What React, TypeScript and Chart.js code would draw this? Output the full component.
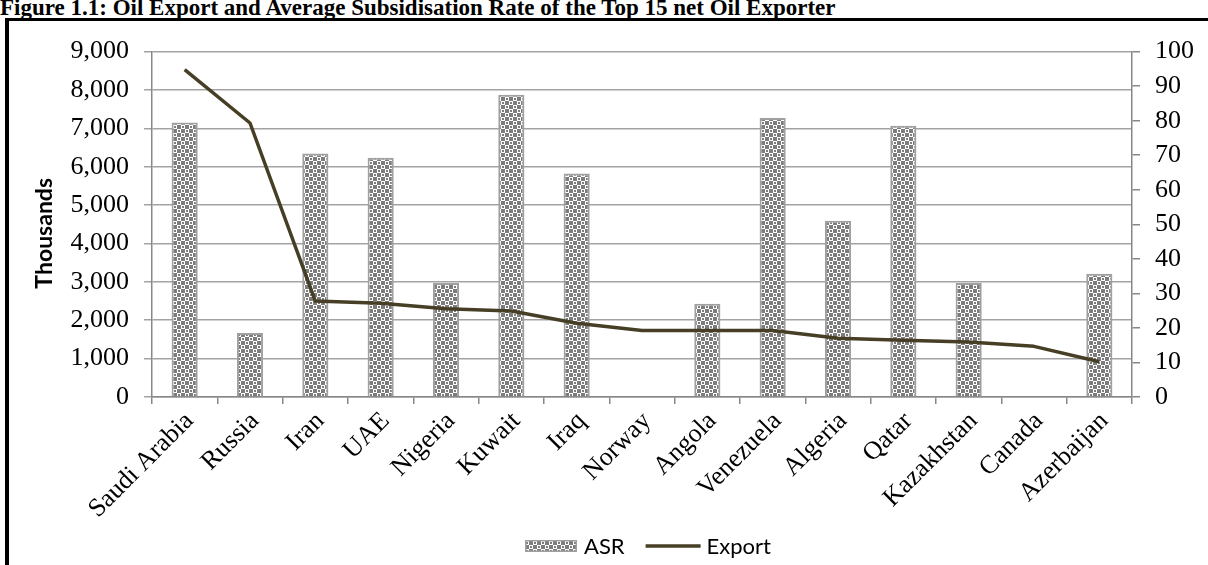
import React, { useEffect, useRef } from 'react';
import { Chart, registerables } from 'chart.js';

Chart.register(...registerables);

// Top 15 net oil exporters, in export order
const categories = [
  'Saudi Arabia', 'Russia', 'Iran', 'UAE', 'Nigeria', 'Kuwait', 'Iraq', 'Norway',
  'Angola', 'Venezuela', 'Algeria', 'Qatar', 'Kazakhstan', 'Canada', 'Azerbaijan',
];

// Average subsidisation rate (%), right axis; no bar where there is no subsidy
const asrRates = [79.5, 18.5, 70.5, 69.3, 33, 87.5, 64.7, null, 27, 80.8, 51, 78.5, 33, null, 35.7];

// Net oil export (thousands), left axis
const exportThousands = [8530, 7140, 2500, 2440, 2300, 2240, 1920, 1730, 1730, 1730, 1530, 1480, 1430, 1320, 920];

const seriesNames = ['ASR', 'Export'];
const axisTitle = 'Thousands';
const figureTitle = 'Figure 1.1: Oil Export and Average Subsidisation Rate of the Top 15 net Oil Exporter';

const SERIF = "'Liberation Serif', 'Times New Roman', serif";
const SANS = "Lato, 'Open Sans', sans-serif";
const TICK_FONT = { family: SERIF, size: 26 };
const GRID = '#a3a3a3';
const AXIS = '#878787';
const LINE = '#463f26';
const HATCH = '#7c7c7c';
const BAR_EDGE = '#a0a0a0';

// 8x8 tile: gray ground with white rings on one checker diagonal, used as the ASR bar fill
function makeTile(): HTMLCanvasElement {
  const c = document.createElement('canvas');
  c.width = 8;
  c.height = 8;
  const g = c.getContext('2d')!;
  g.fillStyle = HATCH;
  g.fillRect(0, 0, 8, 8);
  g.fillStyle = '#ffffff';
  // ring in the upper-right quarter
  g.fillRect(4, 0, 4, 4);
  // ring in the lower-left quarter
  g.fillRect(0, 4, 4, 4);
  g.fillStyle = HATCH;
  g.fillRect(5, 1, 2, 2);
  g.fillRect(1, 5, 2, 2);
  return c;
}

export default function App() {
  const canvasRef = useRef<HTMLCanvasElement>(null);

  useEffect(() => {
    const canvas = canvasRef.current;
    if (!canvas) return;
    const ctx = canvas.getContext('2d')!;
    const tile = makeTile();
    const pattern = ctx.createPattern(tile, 'repeat')!;

    // Axis title and legend drawn after the chart
    const decor = {
      id: 'decor',
      afterDraw(chart: any) {
        const c = chart.ctx as CanvasRenderingContext2D;
        const area = chart.chartArea;
        c.save();
        // rotated left-axis title
        c.fillStyle = '#000';
        c.font = `bold 23px ${SANS}`;
        c.textAlign = 'center';
        c.textBaseline = 'middle';
        c.translate(36, (area.top + area.bottom) / 2 + 9);
        c.rotate(-Math.PI / 2);
        c.fillText(axisTitle, 0, 0);
        c.restore();

        // legend
        c.save();
        const cy = 525;
        let x = 516;
        const sw = 52;
        const sh = 12;
        c.fillStyle = pattern;
        c.fillRect(x, cy - sh / 2, sw, sh);
        c.strokeStyle = BAR_EDGE;
        c.lineWidth = 1.5;
        c.strokeRect(x + 0.75, cy - sh / 2 + 0.75, sw - 1.5, sh - 1.5);
        x += sw + 7;
        c.font = `22px ${SANS}`;
        c.fillStyle = '#000';
        c.textAlign = 'left';
        c.textBaseline = 'middle';
        c.fillText(seriesNames[0], x, cy + 1);
        x += c.measureText(seriesNames[0]).width + 21;
        c.strokeStyle = LINE;
        c.lineWidth = 3.5;
        c.beginPath();
        c.moveTo(x, cy);
        c.lineTo(x + 55, cy);
        c.stroke();
        x += 55 + 6;
        c.fillText(seriesNames[1], x, cy + 1);
        c.restore();
      },
    };

    const chart = new Chart(canvas, {
      type: 'bar',
      data: {
        labels: categories,
        datasets: [
          {
            type: 'line',
            label: seriesNames[1],
            data: exportThousands,
            yAxisID: 'y',
            borderColor: LINE,
            backgroundColor: LINE,
            borderWidth: 3.5,
            borderJoinStyle: 'round',
            pointRadius: 0,
            tension: 0,
            fill: false,
            order: 0,
          } as any,
          {
            type: 'bar',
            label: seriesNames[0],
            data: asrRates,
            yAxisID: 'y1',
            backgroundColor: pattern,
            borderColor: BAR_EDGE,
            borderWidth: 2,
            barPercentage: 0.4,
            categoryPercentage: 1,
            order: 1,
          } as any,
        ],
      },
      options: {
        responsive: false,
        animation: false,
        layout: { padding: { top: 26, left: 0, right: 0, bottom: 0 } },
        plugins: {
          legend: { display: false },
          tooltip: { enabled: false },
        },
        scales: {
          x: {
            grid: {
              offset: true,
              drawOnChartArea: false,
              drawTicks: true,
              tickLength: 7,
              color: AXIS,
              lineWidth: 1.5,
            },
            border: { display: true, color: AXIS, width: 1.5 },
            ticks: {
              font: TICK_FONT,
              color: '#000',
              minRotation: 45,
              maxRotation: 45,
              autoSkip: false,
              padding: 2,
              labelOffset: 5,
            },
            afterFit: (s: any) => {
              s.height = 168;
            },
          },
          y: {
            position: 'left',
            min: 0,
            max: 9000,
            ticks: {
              stepSize: 1000,
              font: TICK_FONT,
              color: '#000',
              padding: 15,
              callback: (v: any) => Number(v).toLocaleString('en-US'),
            },
            grid: { color: GRID, lineWidth: 1.5, tickLength: 8, drawTicks: true },
            border: { display: true, color: AXIS, width: 1.5 },
            afterFit: (s: any) => {
              s.width = 143;
            },
          },
          y1: {
            position: 'right',
            min: 0,
            max: 100,
            ticks: {
              stepSize: 10,
              font: TICK_FONT,
              color: '#000',
              padding: 15,
            },
            grid: { drawOnChartArea: false, color: AXIS, lineWidth: 1.5, tickLength: 8, drawTicks: true },
            border: { display: true, color: AXIS, width: 1.5 },
            afterFit: (s: any) => {
              s.width = 76;
            },
          },
        },
      } as any,
      plugins: [decor],
    });

    return () => chart.destroy();
  }, []);

  return (
    <div
      style={{
        position: 'fixed',
        left: 0,
        top: 0,
        width: 1208,
        height: 565,
        overflow: 'hidden',
        background: '#fff',
      }}
    >
      <div
        style={{
          position: 'absolute',
          left: 0,
          top: -4,
          fontFamily: SERIF,
          fontWeight: 'bold',
          fontSize: 23,
          lineHeight: '23px',
          whiteSpace: 'nowrap',
          color: '#000',
        }}
      >
        {figureTitle}
      </div>
      <div
        style={{
          position: 'absolute',
          left: 5,
          top: 18,
          width: 1400,
          height: 800,
          borderLeft: '4px solid #000',
          borderTop: '3px solid #000',
        }}
      />
      <canvas
        ref={canvasRef}
        width={1199}
        height={544}
        style={{ position: 'absolute', left: 9, top: 21 }}
      />
    </div>
  );
}
